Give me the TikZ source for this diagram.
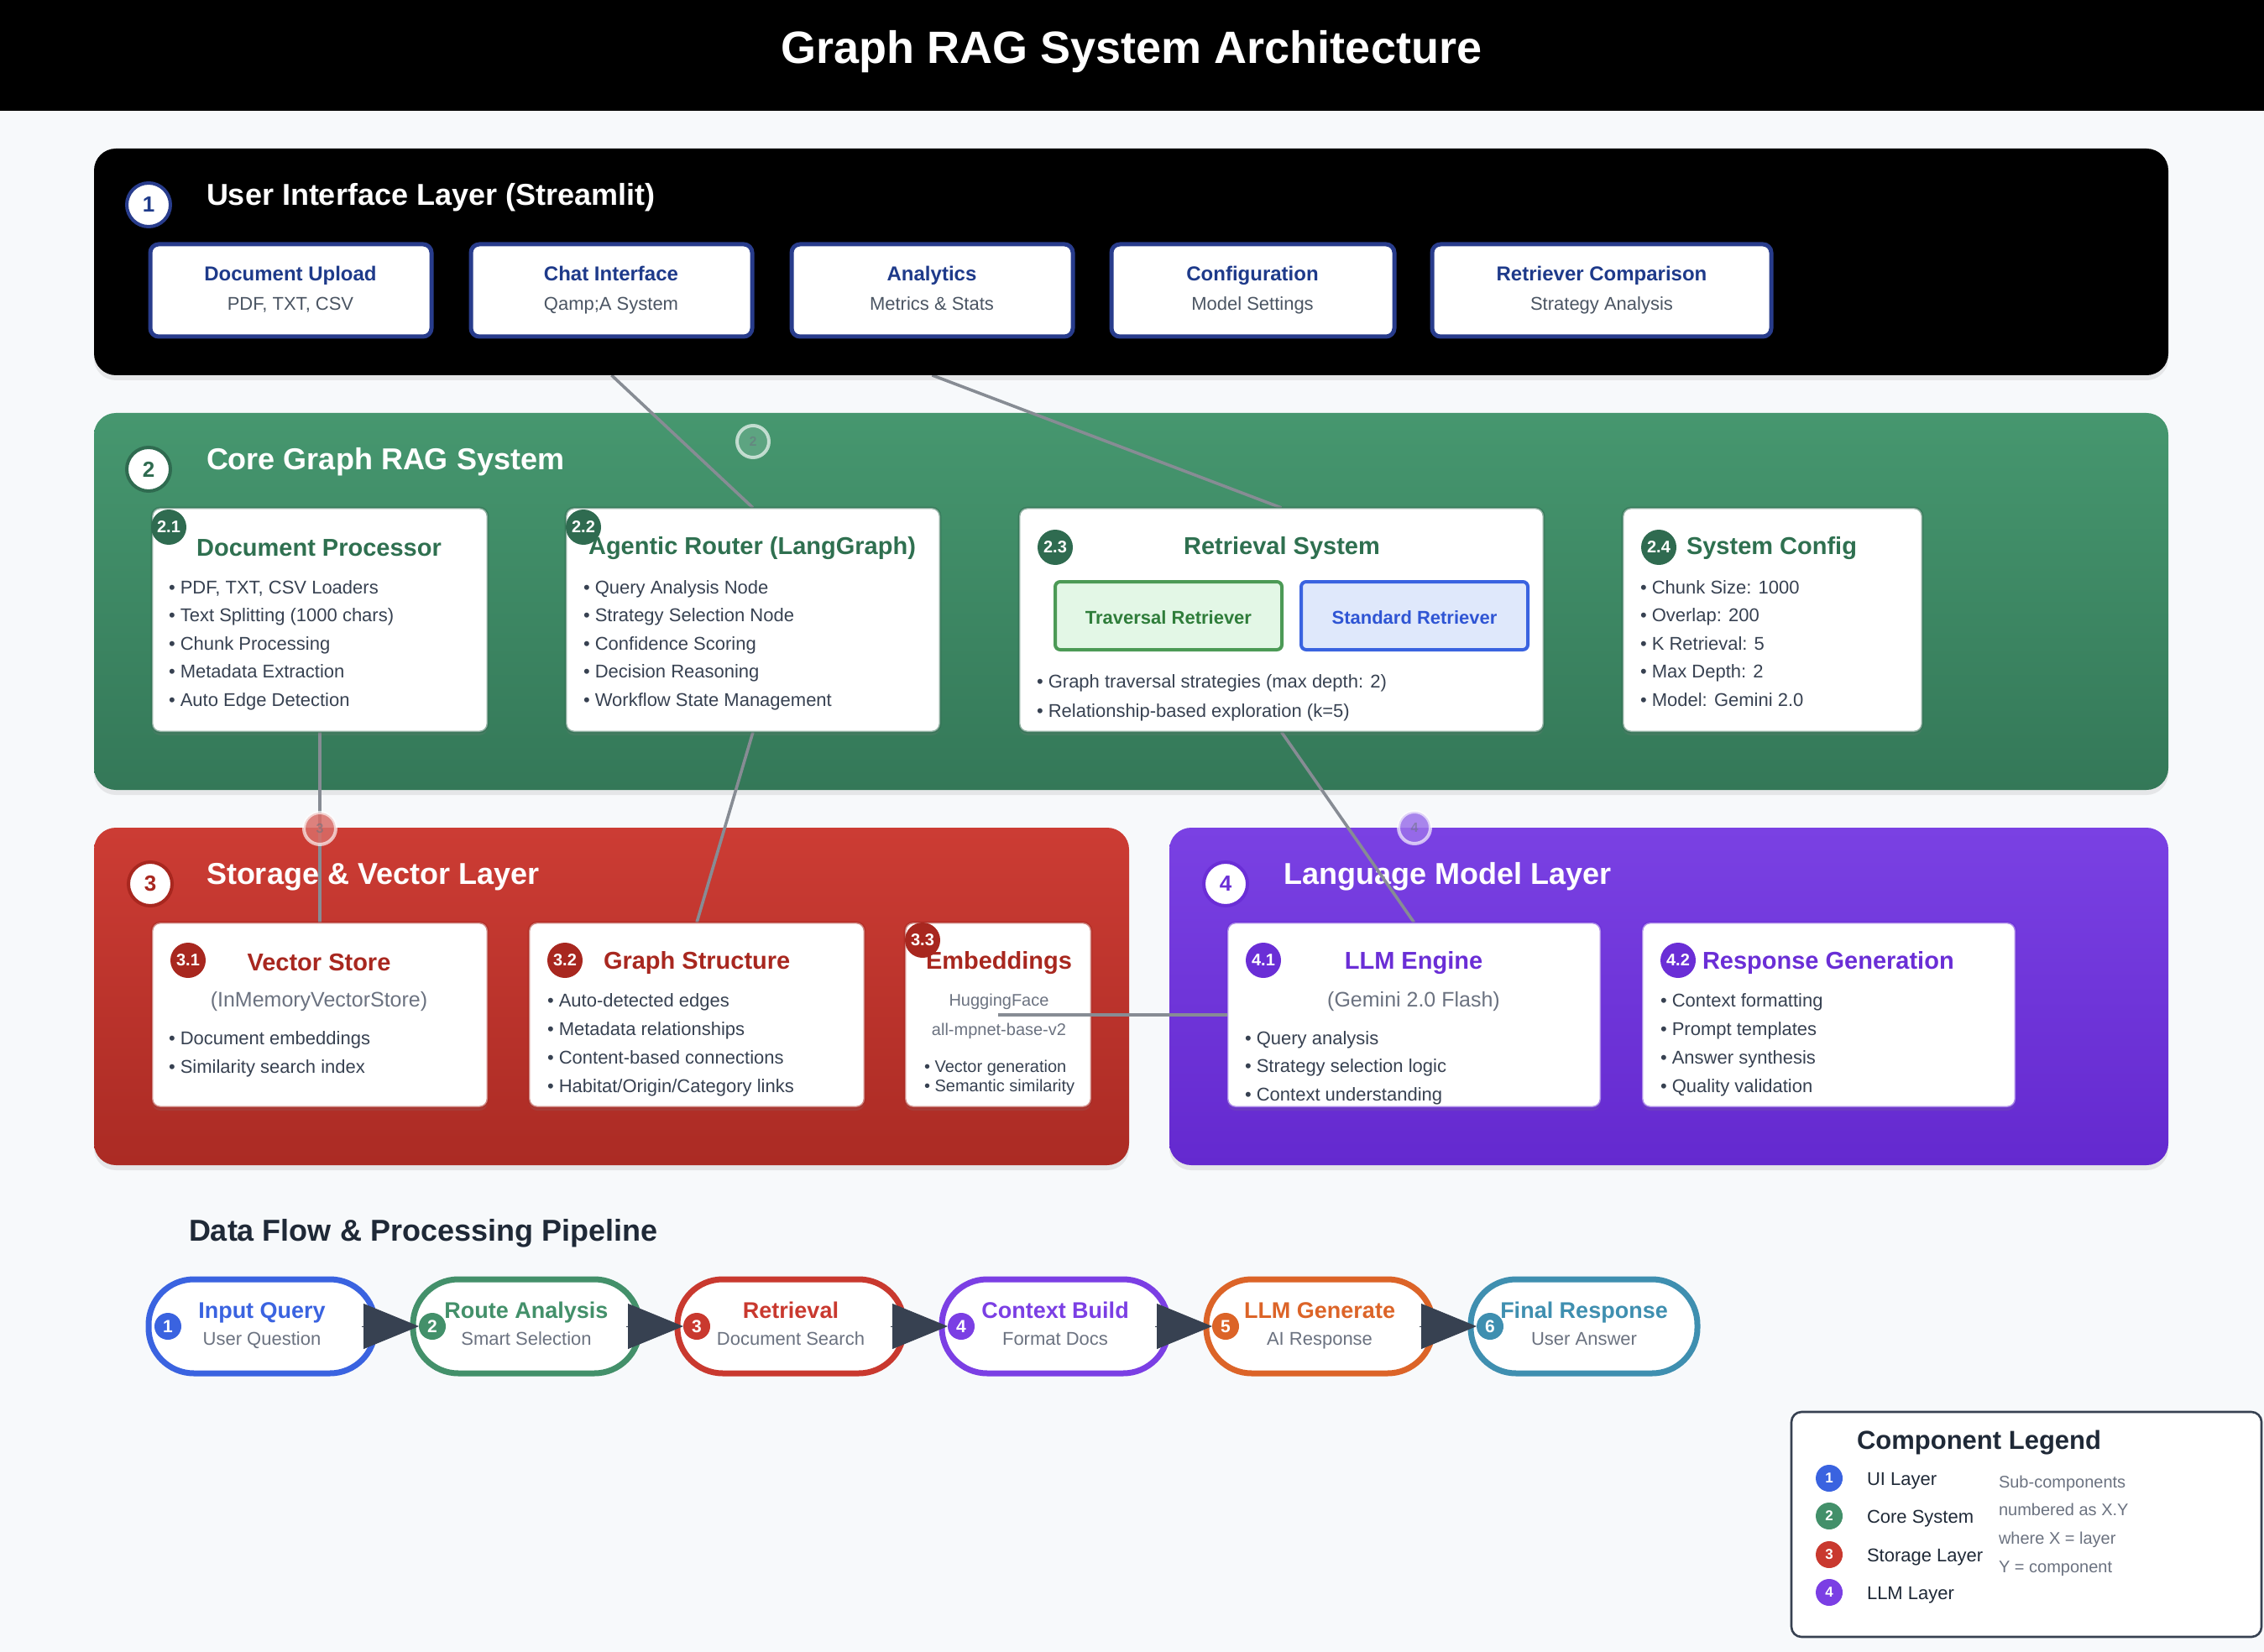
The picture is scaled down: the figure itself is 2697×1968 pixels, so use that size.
\documentclass[tikz,border=0pt]{standalone}
\usepackage{fontspec}
\setmainfont{Liberation Sans}
\usetikzlibrary{fit,shadows,arrows.meta}
\pgfdeclarelayer{back}\pgfdeclarelayer{conn}\pgfdeclarelayer{mid}
\pgfsetlayers{back,conn,mid,main}
\newcommand\fsz[1]{\fontsize{#1}{#1}\selectfont}
\definecolor{bgc}{HTML}{F7F9FB}
\definecolor{navy}{HTML}{1E3A8A}
\definecolor{uiborder}{HTML}{283C8C}
\definecolor{greenA}{HTML}{46976F}
\definecolor{greenB}{HTML}{347858}
\definecolor{greenT}{HTML}{2F7050}
\definecolor{greenD}{HTML}{2F6B50}
\definecolor{redA}{HTML}{CC3C34}
\definecolor{redB}{HTML}{AB2B24}
\definecolor{redT}{HTML}{A8271F}
\definecolor{purA}{HTML}{7A41E3}
\definecolor{purB}{HTML}{6429CF}
\definecolor{purT}{HTML}{6A2ED6}
\definecolor{txt}{HTML}{374151}
\definecolor{subg}{HTML}{4B5563}
\definecolor{lgray}{HTML}{6B7280}
\definecolor{connc}{HTML}{878C94}
\definecolor{pblue}{HTML}{3A63E0}
\definecolor{pgreen}{HTML}{43906A}
\definecolor{pred}{HTML}{C9392F}
\definecolor{ppur}{HTML}{7B3FE4}
\definecolor{porange}{HTML}{DC6428}
\definecolor{pteal}{HTML}{3F8FB0}
\definecolor{arrdark}{HTML}{374151}
\definecolor{darktxt}{HTML}{1F2937}
\begin{document}
\begin{tikzpicture}[x=0.5pt,y=-0.5pt,
  every node/.style={outer sep=0pt},
  layerbox/.style={inner sep=0pt, rounded corners=13pt, drop shadow={opacity=0.15,shadow xshift=0pt,shadow yshift=-3pt}},
  lcirc/.style={circle, fill=white, line width=2pt, minimum size=26pt, inner sep=0pt, font=\bfseries\fsz{13pt}},
  ltitle/.style={anchor=west, inner sep=0pt, text=white, font=\bfseries\fsz{18pt}, yshift=-1.7pt},
  uibox/.style={inner sep=0pt, fill=white, draw=uiborder, line width=2.5pt, rounded corners=5pt},
  uititle/.style={anchor=base, inner sep=0pt, text=navy, font=\bfseries\fsz{12pt}, yshift=-4.8pt},
  uisub/.style={anchor=base, inner sep=0pt, text=subg, font=\fsz{11pt}, yshift=-4.2pt},
  card/.style={inner sep=0pt, fill=white, rounded corners=5pt, line width=1.4pt, draw opacity=0.55, drop shadow={opacity=0.18,shadow xshift=0pt,shadow yshift=-2pt}},
  badge/.style={circle, minimum size=21pt, inner sep=0pt, text=white, font=\bfseries\fsz{10pt}},
  ctitle/.style={inner sep=0pt, font=\bfseries\fsz{14.5pt}, yshift=-1.3pt},
  bul/.style={anchor=base west, inner sep=0pt, text=txt, font=\fsz{11pt}, yshift=-4.7pt},
  sbul/.style={anchor=base west, inner sep=0pt, text=txt, font=\fsz{10pt}, yshift=-4.1pt},
  csub/.style={inner sep=0pt, text=lgray, font=\fsz{12.5pt}, yshift=-1.3pt},
  conn/.style={draw=connc, line width=1.8pt},
  dot/.style={circle, minimum size=19pt, inner sep=0pt, draw=white, draw opacity=0.65, line width=2pt, fill opacity=0.85, text opacity=0.55, text=lgray, font=\bfseries\fsz{8pt}},
  pill/.style={inner sep=0pt, fill=white, line width=3.5pt, rounded corners=27pt},
  pnum/.style={circle, minimum size=16pt, inner sep=0pt, text=white, font=\bfseries\fsz{10.5pt}},
  ptitle/.style={anchor=base, inner sep=0pt, font=\bfseries\fsz{13.5pt}, yshift=-5pt},
  psub/.style={anchor=base, inner sep=0pt, text=lgray, font=\fsz{11pt}, yshift=-4.2pt},
  flowarr/.style={draw=arrdark, line width=0.4pt, -{Triangle[length=33pt,width=27pt]}, fill=arrdark},
  lnum/.style={circle, minimum size=16pt, inner sep=0pt, text=white, font=\bfseries\fsz{8.5pt}},
  llab/.style={anchor=base west, inner sep=0pt, text=darktxt, font=\fsz{11pt}, yshift=-4.4pt},
  lnote/.style={anchor=base west, inner sep=0pt, text=lgray, font=\fsz{10pt}, yshift=-3.8pt}
]
\useasboundingbox (0,0) rectangle (2697,1968);
\begin{pgfonlayer}{back}
\fill[bgc] (0,0) rectangle (2697,1968);
\fill[black] (0,0) rectangle (2697,132);
\node[layerbox, top color=greenA, bottom color=greenB, fit={(112,492)(2583,941)}] (L2) {};
\node[layerbox, top color=redA, bottom color=redB, fit={(112,986)(1345,1388)}] (L3) {};
\node[layerbox, top color=purA, bottom color=purB, fit={(1393,986)(2583,1388)}] (L4) {};
\node[ltitle] (t2) at (246,547) {Core Graph RAG System};
\node[ltitle] (t3) at (246,1041) {Storage \& Vector Layer};
\node[ltitle] (t4) at (1529,1041) {Language Model Layer};
\end{pgfonlayer}
\node[inner sep=0pt, text=white, font=\bfseries\fsz{27pt}, yshift=-2.5pt] (title) at (1348,57) {Graph RAG System Architecture};
\begin{pgfonlayer}{mid}
\node[layerbox, fill=black, fit={(112,177)(2583,447)}] (L1) {};
\node[ltitle] (t1) at (246,232) {User Interface Layer (Streamlit)};
\end{pgfonlayer}
% layer circles
\node[lcirc, draw=uiborder, text=navy] (c1) at (177,244) {1};
\node[lcirc, draw=greenD, text=greenD] (c2) at (177,559) {2};
\node[lcirc, draw=redT, text=redT] (c3) at (179,1053) {3};
\node[lcirc, draw=purT, text=purT] (c4) at (1460,1053) {4};
% UI boxes
\node[uibox, fit={(179,291)(514,401)}] (du) {};
\node[uibox, fit={(561,291)(896,401)}] (ci) {};
\node[uibox, fit={(943,291)(1278,401)}] (an) {};
\node[uibox, fit={(1324,291)(1661,401)}] (cf) {};
\node[uibox, fit={(1706,291)(2110,401)}] (rc) {};
\node[uititle] (du-t) at (346,325) {Document Upload};
\node[uisub] (du-s) at (346,361) {PDF, TXT, CSV};
\node[uititle] (ci-t) at (728,325) {Chat Interface};
\node[uisub] (ci-s) at (728,361) {Qamp;A System};
\node[uititle] (an-t) at (1110,325) {Analytics};
\node[uisub] (an-s) at (1110,361) {Metrics \& Stats};
\node[uititle] (cf-t) at (1492,325) {Configuration};
\node[uisub] (cf-s) at (1492,361) {Model Settings};
\node[uititle] (rc-t) at (1908,325) {Retriever Comparison};
\node[uisub] (rc-s) at (1908,361) {Strategy Analysis};
% green cards
\node[card, draw=greenD, fit={(181,605)(581,872)}] (dp) {};
\node[card, draw=greenD, fit={(674,605)(1120,872)}] (ar) {};
\node[card, draw=greenD, fit={(1214,605)(1839,872)}] (rs) {};
\node[card, draw=greenD, fit={(1933,605)(2290,872)}] (sc) {};
\node[ctitle, text=greenT] (dp-t) at (380,650) {Document Processor};
\node[ctitle, text=greenT] (ar-t) at (896,650) {Agentic Router (LangGraph)};
\node[ctitle, text=greenT] (rs-t) at (1527,650) {Retrieval System};
\node[ctitle, text=greenT, anchor=west] (sc-t) at (2009,650) {System Config};
\node[badge, fill=greenD] (b21) at (201,628) {2.1};
\node[badge, fill=greenD] (b22) at (695,628) {2.2};
\node[badge, fill=greenD] (b23) at (1257,652) {2.3};
\node[badge, fill=greenD] (b24) at (1976,652) {2.4};
\foreach \t [count=\i] in {{PDF, TXT, CSV Loaders},{Text Splitting (1000 chars)},{Chunk Processing},{Metadata Extraction},{Auto Edge Detection}}
  \node[bul] (dp-b\i) at (201,{698+33.5*(\i-1)}) {• \t};
\foreach \t [count=\i] in {{Query Analysis Node},{Strategy Selection Node},{Confidence Scoring},{Decision Reasoning},{Workflow State Management}}
  \node[bul] (ar-b\i) at (695,{698+33.5*(\i-1)}) {• \t};
\foreach \t [count=\i] in {{Chunk Size: 1000},{Overlap: 200},{K Retrieval: 5},{Max Depth: 2},{Model: Gemini 2.0}}
  \node[bul] (sc-b\i) at (1954,{698+33.5*(\i-1)}) {• \t};
\node[inner sep=0pt, fill={rgb,255:red,227;green,247;blue,230}, draw={rgb,255:red,76;green,154;blue,86}, line width=2pt, rounded corners=3pt, fit={(1257,693)(1527,774)}] (tr) {};
\node[inner sep=0pt, fill={rgb,255:red,223;green,232;blue,251}, draw={rgb,255:red,58;green,99;blue,224}, line width=2pt, rounded corners=3pt, fit={(1550,693)(1820,774)}] (sr) {};
\node[inner sep=0pt, text={rgb,255:red,47;green,125;blue,58}, font=\bfseries\fsz{11pt}, yshift=-1.2pt] (tr-t) at (tr.center) {Traversal Retriever};
\node[inner sep=0pt, text={rgb,255:red,47;green,85;blue,212}, font=\bfseries\fsz{11pt}, yshift=-1.2pt] (sr-t) at (sr.center) {Standard Retriever};
\node[bul] (rs-b1) at (1235,810) {• Graph traversal strategies (max depth: 2)};
\node[bul] (rs-b2) at (1235,845) {• Relationship-based exploration (k=5)};
% red cards
\node[card, draw=redT, fit={(181,1099)(581,1319)}] (vs) {};
\node[card, draw=redT, fit={(630,1099)(1030,1319)}] (gs) {};
\node[card, draw=redT, fit={(1078,1099)(1300,1319)}] (emb) {};
\node[ctitle, text=redT] (vs-t) at (380,1144) {Vector Store};
\node[ctitle, text=redT, anchor=west] (gs-t) at (719,1144) {Graph Structure};
\node[ctitle, text=redT] (emb-t) at (1190,1144) {Embeddings};
\node[badge, fill=redT] (b31) at (224,1144) {3.1};
\node[badge, fill=redT] (b32) at (673,1144) {3.2};
\node[badge, fill=redT] (b33) at (1099,1120) {3.3};
\node[csub] (vs-s) at (380,1190) {(InMemoryVectorStore)};
\node[bul] (vs-b1) at (201,1235) {• Document embeddings};
\node[bul] (vs-b2) at (201,1269) {• Similarity search index};
\foreach \t [count=\i] in {{Auto-detected edges},{Metadata relationships},{Content-based connections},{Habitat/Origin/Category links}}
  \node[bul] (gs-b\i) at (652,{1190+34*(\i-1)}) {• \t};
% purple cards
\node[card, draw=purT, fit={(1462,1099)(1907,1319)}] (llm) {};
\node[card, draw=purT, fit={(1956,1099)(2401,1319)}] (rg) {};
\node[ctitle, text=purT] (llm-t) at (1684,1144) {LLM Engine};
\node[ctitle, text=purT, anchor=west] (rg-t) at (2028,1144) {Response Generation};
\node[badge, fill=purT] (b41) at (1505,1144) {4.1};
\node[badge, fill=purT] (b42) at (1999,1144) {4.2};
\node[csub] (llm-s) at (1684,1190) {(Gemini 2.0 Flash)};
\foreach \t [count=\i] in {{Query analysis},{Strategy selection logic},{Context understanding}}
  \node[bul] (llm-b\i) at (1483,{1235+33.5*(\i-1)}) {• \t};
\foreach \t [count=\i] in {{Context formatting},{Prompt templates},{Answer synthesis},{Quality validation}}
  \node[bul] (rg-b\i) at (1978,{1190+34*(\i-1)}) {• \t};
% connectors
\begin{pgfonlayer}{conn}
\draw[conn] (ci |- L1.south) -- (ar.north);
\draw[conn] (an |- L1.south) -- (rs.north);
\draw[conn] (dp.south) -- (vs.north);
\draw[conn] (ar.south) -- (gs.north);
\draw[conn] (rs.south) -- (llm.north);
\end{pgfonlayer}
\draw[conn, line width=2.4pt] (emb.center) -- (llm.west);
\node[anchor=base, inner sep=0pt, text=lgray, font=\fsz{10pt}, yshift=-4.1pt] (emb-s1) at (1190,1190) {HuggingFace};
\node[anchor=base, inner sep=0pt, text=lgray, font=\fsz{10pt}, yshift=-4.1pt] (emb-s2) at (1190,1225) {all-mpnet-base-v2};
\node[sbul] (emb-b1) at (1101,1269) {• Vector generation};
\node[sbul] (emb-b2) at (1101,1292) {• Semantic similarity};
% dots
\node[dot, fill=greenA!85!white] (d2) at (897,526) {2};
\node[dot, fill=redA!75!white] (d3) at (381,987) {3};
\node[dot, fill=purA!75!white] (d4) at (1685,986) {4};
% pipeline
\node[anchor=west, inner sep=0pt, text=darktxt, font=\bfseries\fsz{18pt}, yshift=-1.3pt] (pt) at (225,1467) {Data Flow \& Processing Pipeline};
\foreach \i/\c/\a/\b in {1/pblue/Input Query/User Question,2/pgreen/Route Analysis/Smart Selection,3/pred/Retrieval/Document Search,4/ppur/Context Build/Format Docs,5/porange/LLM Generate/AI Response,6/pteal/Final Response/User Answer}{
  \pgfmathsetmacro\lx{177+315*(\i-1)}
  \node[pill, draw=\c, fit={(\lx,1524)(\lx+270,1636)}] (p\i) {};
  \node[ptitle, text=\c] (p\i-t) at (\lx+135,1560) {\a};
  \node[psub] (p\i-s) at (\lx+135,1594) {\b};
  \node[pnum, fill=\c] (n\i) at (\lx+23,1580) {\i};
}
\foreach \i [evaluate=\i as \j using int(\i+1)] in {1,...,5}
  \draw[flowarr] ([xshift=-8pt]p\i.east) -- (n\j.west);
% legend
\node[inner sep=0pt, fill=white, draw=txt, line width=1.3pt, rounded corners=6pt, fit={(2134,1682)(2694,1950)}] (leg) {};
\node[anchor=west, inner sep=0pt, text=darktxt, font=\bfseries\fsz{15.5pt}, yshift=-1.5pt] (leg-t) at (2212,1716) {Component Legend};
\foreach \i/\c/\l/\y in {1/pblue/UI Layer/1761,2/pgreen/Core System/1806,3/pred/Storage Layer/1852,4/ppur/LLM Layer/1897}{
  \node[lnum, fill=\c] (lc\i) at (2179,\y) {\i};
  \node[llab] (ll\i) at (2224,\y) {\l};
}
\node[lnote] (ln1) at (2381,1765) {Sub-components};
\node[lnote] (ln2) at (2381,1798) {numbered as X.Y};
\node[lnote] (ln3) at (2381,1832) {where X = layer};
\node[lnote] (ln4) at (2381,1866) {Y = component};
\end{tikzpicture}
\end{document}
